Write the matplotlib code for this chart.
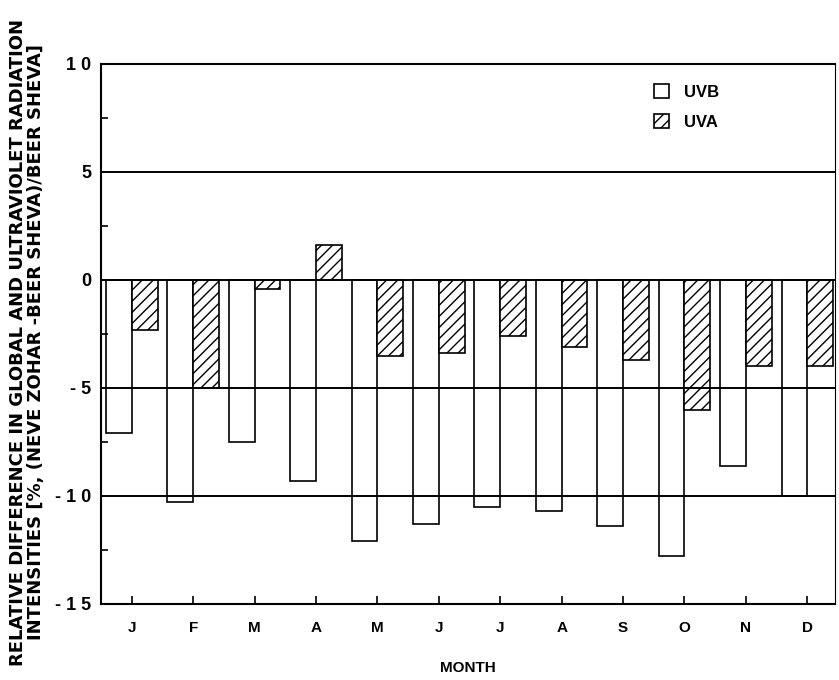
import matplotlib
matplotlib.use("Agg")
import matplotlib.pyplot as plt
import numpy as np

months = ["J", "F", "M", "A", "M", "J", "J", "A", "S", "O", "N", "D"]
uvb = [-7.1, -10.3, -7.5, -9.3, -12.1, -11.3, -10.5, -10.7, -11.4, -12.8, -8.6, -10.0]
uva = [-2.3, -5.0, -0.4, 1.6, -3.5, -3.4, -2.6, -3.1, -3.7, -6.0, -4.0, -4.0]
y_ticks = [10, 5, 0, -5, -10, -15]
y_labels = ["1 0", "5", "0", "- 5", "- 1 0", "- 1 5"]

plt.rcParams["font.family"] = ["Liberation Sans", "DejaVu Sans"]
plt.rcParams["font.weight"] = "bold"
plt.rcParams["hatch.linewidth"] = 1.0

fig = plt.figure(figsize=(8.39, 6.8), dpi=100)
ax = fig.add_axes([0.1204, 0.1118, 0.8748, 0.7941])

x = np.arange(len(months))
w = 0.42
ax.bar(x - w / 2, uvb, width=w, facecolor="none", edgecolor="black",
       linewidth=1.2, label="UVB", zorder=2)
ax.bar(x + w / 2, uva, width=w, facecolor="white", edgecolor="black",
       linewidth=1.2, hatch="///", label="UVA", zorder=2)

for yv in [5, 0, -5, -10]:
    ax.axhline(yv, color="black", linewidth=1.4, zorder=3)

ax.set_xlim(-0.5, 11.45)
ax.set_ylim(-15, 10)
ax.set_xticks(x)
ax.set_xticklabels(months, fontsize=11, fontweight="bold")
ax.set_yticks(y_ticks)
ax.set_yticklabels(y_labels, fontsize=13, fontweight="bold")
ax.set_yticks([7.5, 2.5, -2.5, -7.5, -12.5], minor=True)
ax.tick_params(axis="x", direction="in", length=6, width=1.2, pad=12)
ax.tick_params(axis="y", which="major", length=0, pad=7)
ax.tick_params(axis="y", which="minor", direction="in", length=5, width=1.2)
for s in ax.spines.values():
    s.set_linewidth(1.5)
ax.spines["right"].set_linewidth(0.8)

ax.set_xlabel("MONTH", fontsize=11, fontweight="bold", labelpad=19)
ax.set_ylabel("RELATIVE DIFFERENCE IN GLOBAL AND ULTRAVIOLET RADIATION\n"
              "INTENSITIES [%, (NEVE ZOHAR -BEER SHEVA)/BEER SHEVA]",
              fontsize=13, fontweight="bold", linespacing=1.05,
              family=["DejaVu Sans"])
ax.yaxis.set_label_coords(-0.076, 0.485)

leg = ax.legend(loc="upper left", bbox_to_anchor=(0.742, 0.978), frameon=False,
                fontsize=12, handlelength=0.9, handleheight=0.9,
                handletextpad=0.9, labelspacing=0.85, borderpad=0)

fig.savefig("out.png", dpi=100)
